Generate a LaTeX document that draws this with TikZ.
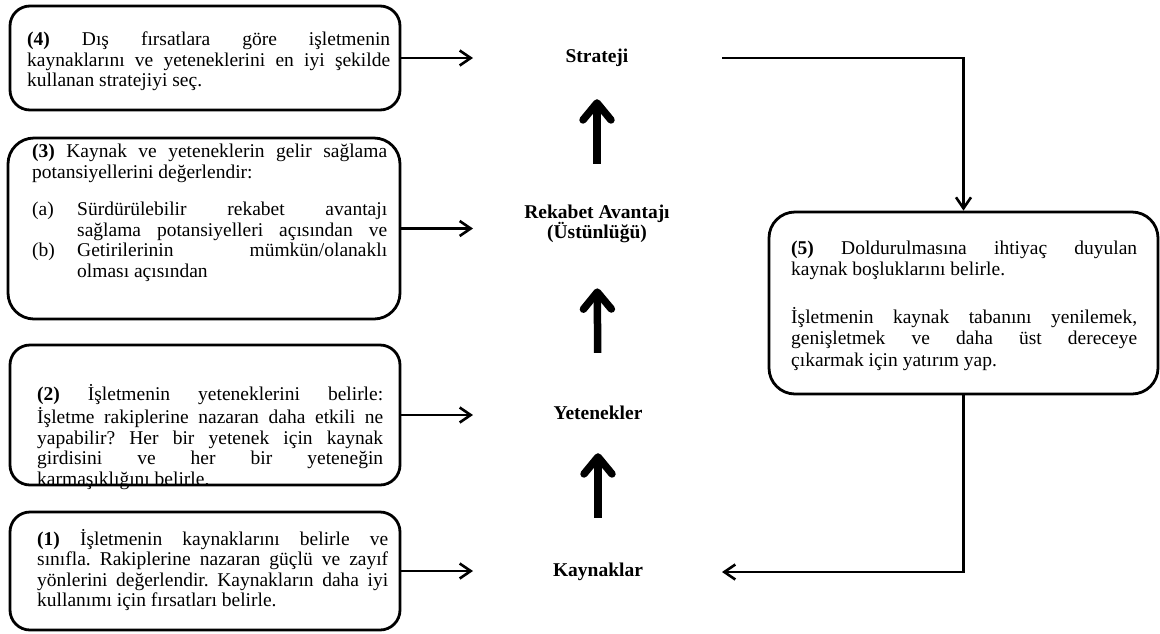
\documentclass[tikz,border=0pt]{standalone}
\usepackage{fontspec}
\setmainfont{Liberation Serif}
\usetikzlibrary{arrows.meta}
\setlength{\parindent}{0pt}
\frenchspacing

\begin{document}
\begin{tikzpicture}[x=1pt,y=-1pt,
  panel/.style={draw, line width=2.8pt, rounded corners=20pt, inner sep=0pt},
  bodytext/.style={anchor=north west, inner sep=0pt, align=justify,
    font=\fontsize{19.5}{20.5}\selectfont},
  stage/.style={inner sep=0pt, font=\fontsize{19.5}{20.5}\selectfont\bfseries},
  stageline/.style={stage, text height=13.5pt, text depth=4.5pt},
  feed/.style={line width=2.6pt, -{Straight Barb[length=11pt,width=15pt]}},
  rise/.style={line width=7.5pt, -{Straight Barb[length=17pt,width=28pt,round]}}]

% page
\fill[white] (0,0) rectangle (1160,633);

% frames on the left and right
\node[panel, minimum width=390pt, minimum height=104pt] (b4) at (205,58) {};
\node[panel, minimum width=392pt, minimum height=181pt, rounded corners=26pt] (b3) at (204,228.5) {};
\node[panel, minimum width=390pt, minimum height=140pt] (b2) at (205,415) {};
\node[panel, minimum width=390pt, minimum height=118pt] (b1) at (205,571) {};
\node[panel, minimum width=389pt, minimum height=182pt, rounded corners=26pt] (b5) at (963.5,303) {};

% texts of the frames
\node[bodytext, text width=363pt] (t4) at (27,31) {\strut\textbf{(4)} Dış fırsatlara göre işletmenin\linebreak
kaynaklarını ve yeteneklerini en iyi şekilde\linebreak kullanan stratejiyi seç.};

\node[bodytext, text width=355pt] (t3) at (32,143) {\strut\textbf{(3)} Kaynak ve yeteneklerin gelir sağlama\linebreak
potansiyellerini değerlendir:\par
\vspace{17pt}
{\hangindent=45pt\hangafter=1\parfillskip=0pt\makebox[45pt][l]{(a)}Sürdürülebilir rekabet avantajı\linebreak
sağlama potansiyelleri açısından ve\par}
{\hangindent=45pt\hangafter=1\makebox[45pt][l]{(b)}Getirilerinin mümkün/olanaklı\linebreak
olması açısından\par}};

\node[bodytext, text width=346pt] (t2) at (37,384) {\strut\textbf{(2)} İşletmenin yeteneklerini belirle:\linebreak
İşletme rakiplerine nazaran daha etkili ne\linebreak yapabilir? Her bir yetenek için kaynak\linebreak
girdisini ve her bir yeteneğin\linebreak karmaşıklığını belirle.};

\node[bodytext, text width=351pt] (t1) at (37,529) {\strut\textbf{(1)} İşletmenin kaynaklarını belirle ve\linebreak
sınıfla. Rakiplerine nazaran güçlü ve zayıf\linebreak yönlerini değerlendir. Kaynakların daha iyi\linebreak
kullanımı için fırsatları belirle.};

\node[bodytext, text width=346pt, font=\fontsize{19.5}{21.5}\selectfont] (t5) at (791,239) {\strut\textbf{(5)} Doldurulmasına ihtiyaç duyulan\linebreak
kaynak boşluklarını belirle.\par
\vspace{26pt}
İşletmenin kaynak tabanını yenilemek,\linebreak genişletmek ve daha üst dereceye\linebreak
çıkarmak için yatırım yap.};

% central chain
\node[stageline] (str) at (597,58) {Strateji};
\node[stage, align=center] (rek) at (597,224) {Rekabet Avantajı\\(Üstünlüğü)};
\node[stageline] (yet) at (598,415) {Yetenekler};
\node[stageline] (kay) at (598,572) {Kaynaklar};

\draw[rise, shorten <=41pt, shorten >=32pt] (rek.north) -- (str.south);
\draw[rise, shorten <=53pt, shorten >=45pt] (yet.north) -- (rek.south);
\draw[rise, shorten <=45pt, shorten >=29pt] (kay.north) -- (yet.south);

% inputs from the frames
\coordinate (tipcol) at (473,0);
\coordinate (rcol) at (722,0);
\draw[feed] (b4.east) -- (tipcol |- b4.east);
\draw[feed] (b3.east) -- (tipcol |- b3.east);
\draw[feed] (b2.east) -- (tipcol |- b2.east);
\draw[feed] (b1.east) -- (tipcol |- b1.east);

% feedback loop on the right
\draw[feed] (rcol |- str) -| (b5.north);
\draw[feed] (b5.south) |- (rcol |- kay);
\end{tikzpicture}
\end{document}
